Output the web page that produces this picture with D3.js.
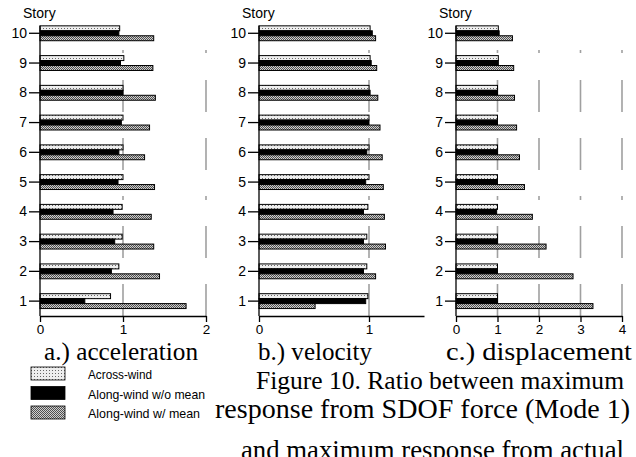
<!DOCTYPE html>
<html><head><meta charset="utf-8">
<script src="https://cdn.jsdelivr.net/npm/d3@7"></script>
<style>body{margin:0;background:#fff} svg{display:block}</style>
</head><body>
<svg id="chart" width="636" height="457"></svg>
<script>
// ---------- data ----------
const stories = ["10","9","8","7","6","5","4","3","2","1"];
const seriesNames = ["Across-wind","Along-wind w/o mean","Along-wind w/ mean"];
// values listed in story order 10 .. 1
const accAcross      = [0.96,1.01,1.00,1.00,1.00,1.00,0.99,0.99,0.95,0.85];
const accAlongNoMean = [0.95,0.97,1.00,0.98,0.95,0.94,0.88,0.90,0.86,0.54];
const accAlongMean   = [1.37,1.36,1.39,1.32,1.26,1.38,1.34,1.37,1.44,1.76];
const velAcross      = [1.01,1.01,1.00,1.00,1.00,1.00,0.99,0.98,0.98,0.99];
const velAlongNoMean = [1.03,1.02,1.01,1.00,0.98,0.97,0.95,0.95,0.95,0.97];
const velAlongMean   = [1.06,1.07,1.08,1.10,1.12,1.13,1.14,1.15,1.06,0.51];
const dispAcross      = [1.02,1.02,1.00,1.00,1.00,1.00,1.00,1.00,1.00,1.00];
const dispAlongNoMean = [1.04,1.02,1.00,1.00,1.00,1.00,0.98,1.00,1.00,1.00];
const dispAlongMean   = [1.36,1.39,1.41,1.46,1.53,1.65,1.84,2.17,2.82,3.30];
const accTicks  = [0,1,2];
const velTicks  = [0,1];
const dispTicks = [0,1,2,3,4];
const panelTitles = ["a.) acceleration","b.) velocity","c.) displacement"];
const yAxisTitle = "Story";
const captionLines = ["Figure 10. Ratio between maximum",
                      "response from SDOF force (Mode 1)",
                      "and maximum response from actual"];

// ---------- layout ----------
const svg = d3.select("#chart");
const SANS = "'Liberation Sans', Arial, sans-serif";
const SERIF = "'Liberation Serif', 'Times New Roman', serif";
const plotTop = 18.4, plotBottom = 316;

const defs = svg.append("defs");
const p1 = defs.append("pattern").attr("id","patAcross").attr("patternUnits","userSpaceOnUse")
  .attr("width",3).attr("height",3);
p1.append("rect").attr("width",3).attr("height",3).attr("fill","#eeeeee");
p1.append("rect").attr("x",1).attr("y",1).attr("width",1).attr("height",1).attr("fill","#666");
const p3 = defs.append("pattern").attr("id","patAlong").attr("patternUnits","userSpaceOnUse")
  .attr("width",2).attr("height",2);
p3.append("rect").attr("width",2).attr("height",2).attr("fill","#cfcfcf");
p3.append("rect").attr("x",0).attr("y",0).attr("width",1).attr("height",1).attr("fill","#505050");
p3.append("rect").attr("x",1).attr("y",1).attr("width",1).attr("height",1).attr("fill","#505050");
const fills = ["url(#patAcross)","#000","url(#patAlong)"];

const panels = [
  {range:[40,206],  domain:[0,2],   ticks:accTicks,  series:[accAcross,accAlongNoMean,accAlongMean],   title:panelTitles[0], tx0:44,  tw:154},
  {range:[259,424], domain:[0,1.5], ticks:velTicks,  series:[velAcross,velAlongNoMean,velAlongMean],   title:panelTitles[1], tx0:258, tw:114},
  {range:[456,622], domain:[0,4],   ticks:dispTicks, series:[dispAcross,dispAlongNoMean,dispAlongMean],title:panelTitles[2], tx0:446, tw:186}
];

const y = d3.scaleBand().domain(stories).range([plotTop, plotBottom]).paddingInner(0.5).paddingOuter(0.25);
const ySub = d3.scaleBand().domain(d3.range(3)).range([0, y.bandwidth()]);

panels.forEach(p => {
  const x = d3.scaleLinear().domain(p.domain).range(p.range);
  const g = svg.append("g");
  p.ticks.filter(t => t > 0).forEach(t => {
    g.append("line").attr("x1",x(t)).attr("x2",x(t)).attr("y1",plotBottom).attr("y2",plotTop)
      .attr("stroke","#a0a0a0").attr("stroke-width",1.6)
      .attr("stroke-dasharray","32 26 32 26 4 26 32 26 32 27 3 300");
  });
  p.series.forEach((vals, si) => {
    g.selectAll(null).data(vals).enter().append("rect")
      .attr("x", x(0))
      .attr("y", (d,i) => y(stories[i]) + ySub(si))
      .attr("width", d => x(d) - x(0))
      .attr("height", ySub.bandwidth())
      .attr("fill", fills[si])
      .attr("stroke","#000").attr("stroke-width",1);
  });
  const xa = g.append("g").attr("transform",`translate(0,${plotBottom})`)
    .call(d3.axisBottom(x).tickValues(p.ticks).tickFormat(d3.format("d")).tickSize(6).tickSizeOuter(0).tickPadding(2));
  xa.selectAll("text").attr("font-family",SANS).attr("font-size",13.5).attr("fill","#000");
  xa.selectAll("path,line").attr("stroke","#000").attr("stroke-width",1.3);
  const ya = g.append("g").attr("transform",`translate(${p.range[0]},0)`)
    .call(d3.axisLeft(y).tickSize(11).tickSizeOuter(0).tickPadding(2));
  ya.select(".domain").remove();
  ya.append("line").attr("x1",0).attr("x2",0).attr("y1",y(stories[0])).attr("y2",plotBottom)
    .attr("stroke","#000").attr("stroke-width",1.3);
  ya.selectAll("text").attr("font-family",SANS).attr("font-size",14).attr("fill","#000");
  ya.selectAll("line").attr("stroke","#000").attr("stroke-width",1.3);
  g.append("text").attr("x",p.range[0]-17).attr("y",18).text(yAxisTitle)
    .attr("font-family",SANS).attr("font-size",14);
  g.append("text").attr("x",p.tx0).attr("y",359.5).text(p.title)
    .attr("font-family",SERIF).attr("font-size",25)
    .attr("textLength",p.tw).attr("lengthAdjust","spacingAndGlyphs");
});

// legend
const lg = svg.append("g");
seriesNames.forEach((s,i) => {
  lg.append("rect").attr("x",31).attr("y",367+i*19.5).attr("width",34).attr("height",13)
    .attr("fill",fills[i]).attr("stroke","#000").attr("stroke-width",0.8);
  lg.append("text").attr("x",88).attr("y",379+i*19.5).text(s)
    .attr("font-family",SANS).attr("font-size",13)
    .attr("textLength",[64,117,112][i]).attr("lengthAdjust","spacingAndGlyphs");
});

// caption
const capX = [256,215,241], capW = [368,415,383], capY = [389,418,459], capFs = [25.5,27,26.5];
captionLines.forEach((t,i) => {
  svg.append("text").attr("x",capX[i]).attr("y",capY[i]).text(t)
    .attr("font-family",SERIF).attr("font-size",capFs[i])
    .attr("textLength",capW[i]).attr("lengthAdjust","spacingAndGlyphs");
});
</script>
</body></html>
